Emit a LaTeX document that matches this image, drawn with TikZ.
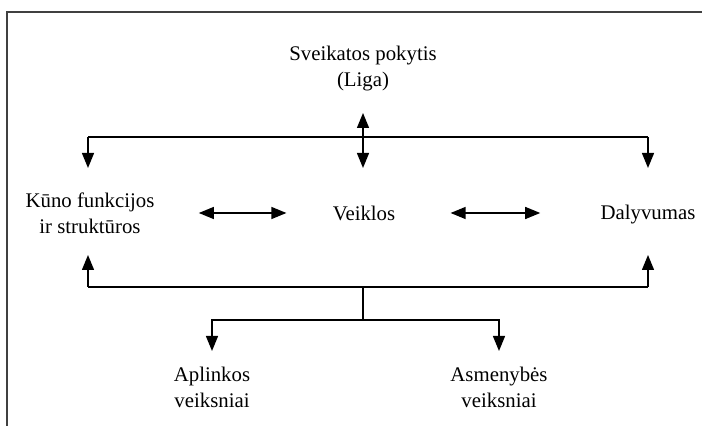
\documentclass[tikz,border=0pt]{standalone}
\usepackage{fontspec}
\setmainfont{Liberation Serif}
\usetikzlibrary{arrows.meta}

\tikzset{
  lbl/.style={align=center, inner sep=0pt, font=\fontsize{10.4}{13}\selectfont},
  link/.style={line width=0.65pt},
  tip/.style={-{Triangle[length=7.5pt,width=6pt]}},
  both/.style={{Triangle[length=7.5pt,width=6pt]}-{Triangle[length=7.5pt,width=6pt]}},
  frame/.style={line width=0.8pt, color=black!75}
}

\begin{document}
\begin{tikzpicture}[x=0.5pt,y=-0.5pt]
    \useasboundingbox (0,0) rectangle (702,426);
    \draw[frame] (702,12) -- (7,12) -- (7,426);
    % texts
    \node[lbl] (liga) at (363,69) {Sveikatos pokytis\\(Liga)};
    \node[lbl] (kuno) at (90,213) {Kūno funkcijos\\ir struktūros};
    \node[lbl] (veikla) at (364,213) {Veiklos};
    \node[lbl] (dalyv) at (648,215) {Dalyvumas};
    \node[lbl] (aplink) at (212,387) {Aplinkos\\veiksniai};
    \node[lbl] (asmen) at (499,387) {Asmenybės\\veiksniai};
    % upper branch
    \coordinate (lt) at (88,137);
    \coordinate (rt) at (648,137);
    \draw[link] (lt) -- (rt);
    \foreach \c in {lt,rt}
    \draw[link,tip] (\c) -- ++(0,31);
    \draw[link,both] (liga.south |- 0,113) -- (liga.south |- 0,168);
    % middle row
    \draw[link,both] ([xshift=22pt]kuno.east |- veikla) -- ([xshift=-23pt]veikla.west);
    \draw[link,both] ([xshift=27.5pt]veikla.east) -- ([xshift=-30pt]dalyv.west |- veikla);
    % lower branch
    \coordinate (lb) at (88,287);
    \coordinate (rb) at (648,287);
    \coordinate (mb) at (363,287);
    \coordinate (mc) at (363,320);
    \draw[link] (lb) -- (rb);
    \foreach \c in {lb,rb}
    \draw[link,tip] (\c) -- ++(0,-32);
    \draw[link] (mb) -- (mc);
    \draw[link,tip] (mc) -| (aplink.north |- 0,351);
    \draw[link,tip] (mc) -| (asmen.north |- 0,351);
\end{tikzpicture}
\end{document}
